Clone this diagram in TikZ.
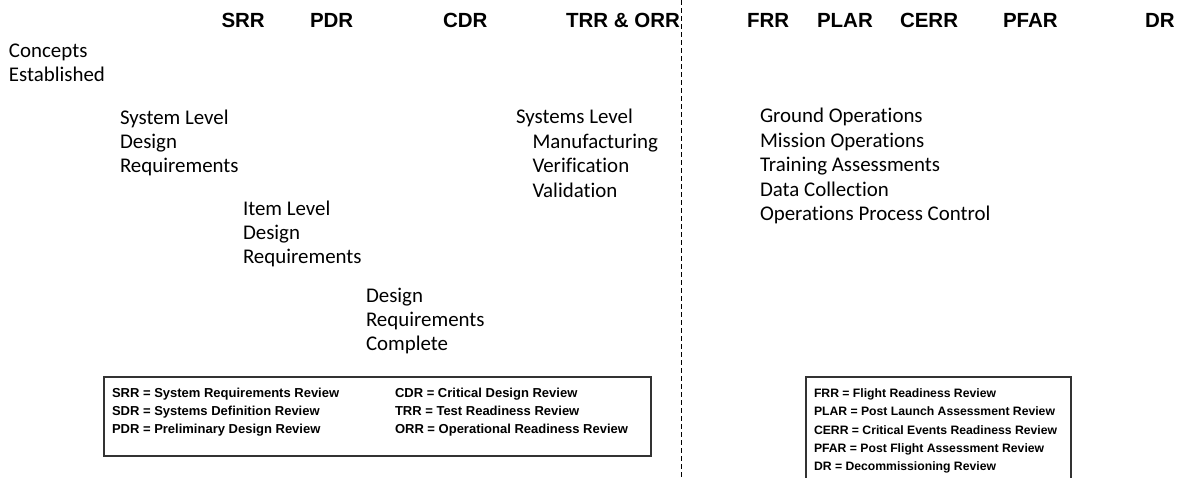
\documentclass[tikz,border=0pt]{standalone}
\usepackage{fontspec}
\setmainfont{Carlito}[Ligatures={NoCommon}]
\newfontfamily\arialfont{Liberation Sans}
\begin{document}
\begin{tikzpicture}[x=1pt,y=-1pt,
  every node/.style={inner sep=0pt,outer sep=0pt,anchor=base west},
  hdr/.style={font=\arialfont\bfseries\fontsize{20.5}{24}\selectfont},
  body/.style={font=\fontsize{20.9}{24.4}\selectfont},
  leg/.style={font=\arialfont\bfseries\fontsize{12.2}{18.3}\selectfont},
  legA/.style={font=\arialfont\bfseries\fontsize{13}{18.3}\selectfont},
  legbox/.style={draw=black!80,line width=1.2pt},
  divider/.style={draw=black,line width=1.2pt,dash pattern=on 5pt off 3pt}]
\useasboundingbox (0,0) rectangle (1179,477);
\clip (0,0) rectangle (1179,477);
% headers
\node[hdr] (srr) at (221.5,27) {SRR};
\node[hdr] (pdr) at (310,27) {PDR};
\node[hdr] (cdr) at (443,27) {CDR};
\node[hdr] (trr) at (566,27) {TRR \& ORR};
\node[hdr] (frr) at (747,27) {FRR};
\node[hdr] (plar) at (817,27) {PLAR};
\node[hdr] (cerr) at (900,27) {CERR};
\node[hdr] (pfar) at (1003,27) {PFAR};
\node[hdr] (dr) at (1145,27) {DR};
% divider
\coordinate (dtop) at (681.5,0);
\coordinate (dbot) at (681.5,477);
\draw[divider] (dtop) -- (dbot);
% body text
\node[body] (c1) at (9,57.7) {Concepts};
\node[body] (c2) at (9,81.7) {Established};
\node[body] (s1) at (120,124) {System Level};
\node[body] (s2) at (120,148) {Design};
\node[body] (s3) at (120,172) {Requirements};
\node[body] (i1) at (243,215) {Item Level};
\node[body] (i2) at (243,239) {Design};
\node[body] (i3) at (243,263) {Requirements};
\node[body] (d1) at (366,302) {Design};
\node[body] (d2) at (366,326) {Requirements};
\node[body] (d3) at (366,350) {Complete};
\node[body] (y1) at (516,123.5) {Systems Level};
\node[body] (y2) at (532.5,148) {Manufacturing};
\node[body] (y3) at (532.5,172.5) {Verification};
\node[body] (y4) at (532.5,197) {Validation};
\node[body] (g1) at (760,122.7) {Ground Operations};
\node[body] (g2) at (760,147.2) {Mission Operations};
\node[body] (g3) at (760,171.7) {Training Assessments};
\node[body] (g4) at (760,196.2) {Data Collection};
\node[body] (g5) at (760,220.6) {Operations Process Control};
% legend 1
\draw[legbox] (104,377) rectangle (651,456);
\node[legA] (l1) at (112,397) {SRR = System Requirements Review};
\node[legA] (l2) at (112,415.3) {SDR = Systems Definition Review};
\node[legA] (l3) at (112,433.6) {PDR = Preliminary Design Review};
\node[legA] (l4) at (395,397) {CDR = Critical Design Review};
\node[legA] (l5) at (395,415.3) {TRR = Test Readiness Review};
\node[legA] (l6) at (395,433.6) {ORR = Operational Readiness Review};
% legend 2
\draw[legbox] (806,490) -- (806,377) -- (1071,377) -- (1071,490);
\node[leg] (m1) at (814,397) {FRR = Flight Readiness Review};
\node[leg] (m2) at (814,415.5) {PLAR = Post Launch Assessment Review};
\node[leg] (m3) at (814,434) {CERR = Critical Events Readiness Review};
\node[leg] (m4) at (814,452.2) {PFAR = Post Flight Assessment Review};
\node[leg] (m5) at (814,470.5) {DR = Decommissioning Review};
\end{tikzpicture}
\end{document}
